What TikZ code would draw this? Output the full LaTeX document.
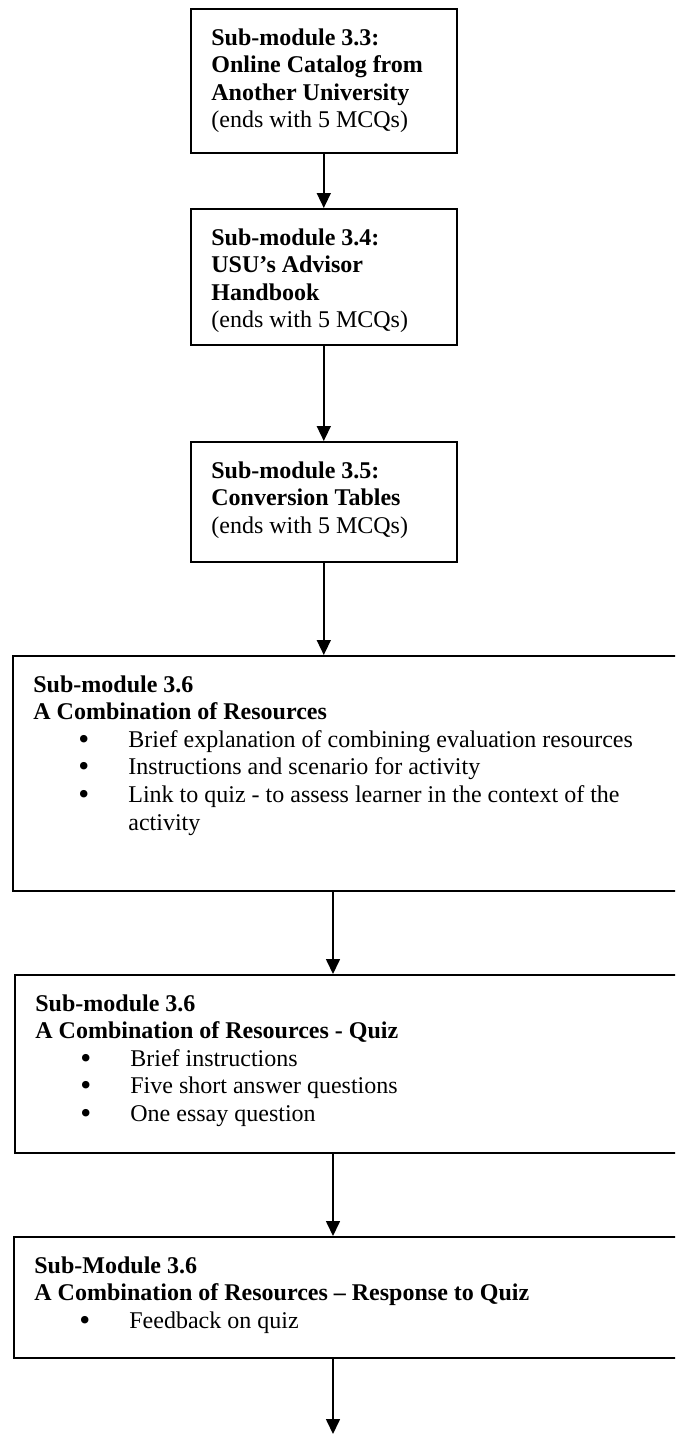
\documentclass[tikz,border=0pt]{standalone}
\usepackage{fontspec}
\setmainfont{Liberation Serif}
\usepackage{tikz}
\usetikzlibrary{positioning,arrows.meta}

\newcommand{\bul}{\hspace*{22.5pt}\makebox[25pt][l]{\raisebox{-0.9pt}{\scalebox{1.3}{\textbullet}}}}
\newcommand{\cont}{\hspace*{47.5pt}}

\begin{document}
\begin{tikzpicture}[
    x=0.5pt, y=-0.5pt,
    stage/.style={rectangle, draw, line width=0.8pt, anchor=north west, inner sep=0pt},
    stagetext/.style={anchor=north west, inner sep=0pt, align=left, font=\fontsize{12}{13.8}\selectfont},
    flow/.style={-{Triangle[width=7pt,length=7.5pt]}, line width=0.8pt}
]

\clip (0,0) rectangle (675,1435);

% small boxes
\node[stage, minimum width=133pt, minimum height=72pt] (s33) at (190,8) {};
\node[stagetext, below right=10pt and 10.5pt of s33.north west] (s33txt) {\textbf{Sub-module 3.3:}\\\textbf{Online Catalog from}\\\textbf{Another University}\\(ends with 5 MCQs)};

\node[stage, minimum width=133pt, minimum height=68pt] (s34) at (190,208) {};
\node[stagetext, below right=10pt and 10.5pt of s34.north west] (s34txt) {\textbf{Sub-module 3.4:}\\\textbf{USU’s Advisor}\\\textbf{Handbook}\\(ends with 5 MCQs)};

\node[stage, minimum width=133pt, minimum height=60pt] (s35) at (190,441) {};
\node[stagetext, below right=10pt and 10.5pt of s35.north west] (s35txt) {\textbf{Sub-module 3.5:}\\\textbf{Conversion Tables}\\(ends with 5 MCQs)};

% wide boxes
\node[stage, minimum width=344pt, minimum height=117.5pt] (s36) at (12,655) {};
\node[stagetext, below right=10pt and 10.5pt of s36.north west] (s36txt) {\textbf{Sub-module 3.6}\\\textbf{A Combination of Resources}\\\bul Brief explanation of combining evaluation resources\\\bul Instructions and scenario for activity\\\bul Link to quiz - to assess learner in the context of the\\\cont activity};

\node[stage, minimum width=343pt, minimum height=89pt] (s36quiz) at (14,974) {};
\node[stagetext, below right=10pt and 10.5pt of s36quiz.north west] (s36quiztxt) {\textbf{Sub-module 3.6}\\\textbf{A Combination of Resources - Quiz}\\\bul Brief instructions\\\bul Five short answer questions\\\bul One essay question};

\node[stage, minimum width=344pt, minimum height=60.5pt] (s36resp) at (13,1236) {};
\node[stagetext, below right=10pt and 10.5pt of s36resp.north west] (s36resptxt) {\textbf{Sub-Module 3.6}\\\textbf{A Combination of Resources -- Response to Quiz}\\\bul Feedback on quiz};

\coordinate (spine) at (333,0);
\coordinate (next) at (333,1434);

\draw[flow] (s33) -- (s34);
\draw[flow] (s34) -- (s35);
\draw[flow] (s35) -- (s35 |- s36.north);
\draw[flow] (s36.south -| spine) -- (s36quiz.north -| spine);
\draw[flow] (s36quiz.south -| spine) -- (s36resp.north -| spine);
\draw[flow] (s36resp.south -| spine) -- (next);

\end{tikzpicture}
\end{document}
